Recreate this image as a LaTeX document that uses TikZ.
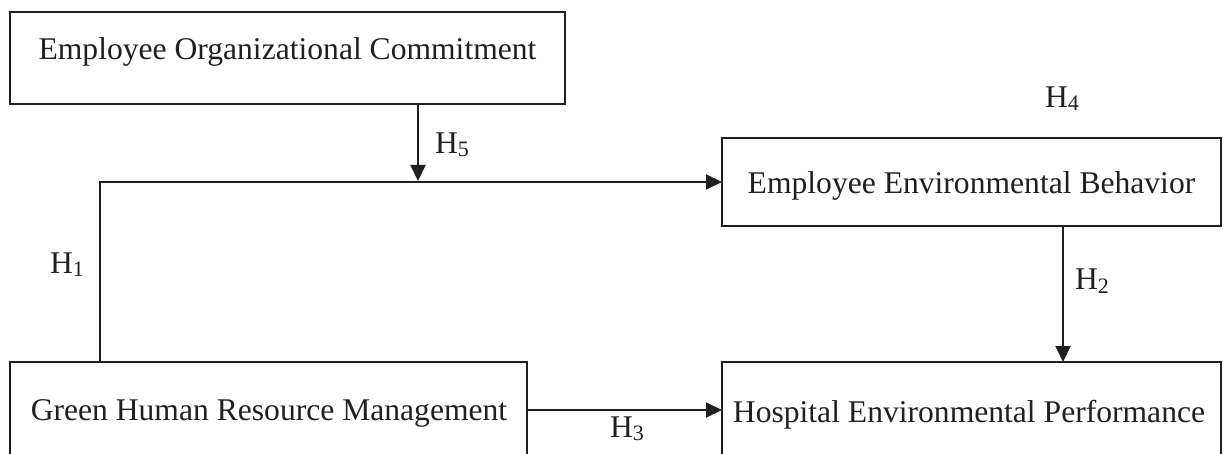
\documentclass[tikz,border=0pt]{standalone}
\usepackage{fontspec}
\setmainfont{Liberation Serif}
\usetikzlibrary{arrows.meta}
\definecolor{ink}{RGB}{35,31,32}
\newcommand{\Hsub}[1]{H\raisebox{-3pt}{\fontsize{22pt}{22pt}\selectfont #1}}
\begin{document}
\begin{tikzpicture}[x=1pt,y=1pt,
  box/.style={draw=ink,line width=2.2pt,rectangle,inner sep=0pt,outer sep=0pt},
  txt/.style={inner sep=0pt,outer sep=0pt,anchor=base,text=ink,font=\fontsize{31.6pt}{36pt}\selectfont},
  lbl/.style={inner sep=0pt,outer sep=0pt,anchor=base west,text=ink,font=\fontsize{31.6pt}{36pt}\selectfont},
  arr/.style={draw=ink,line width=2pt,-{Triangle[length=16pt,width=15pt]}},
  ln/.style={draw=ink,line width=2pt}]
\useasboundingbox (0,0) rectangle (1228,-454);
\clip (0,0) rectangle (1228,-454);
\fill[white] (0,0) rectangle (1228,-454);
% boxes
\node[box,minimum width=555pt,minimum height=92pt] (eoc) at (287.5,-58) {};
\node[box,minimum width=499pt,minimum height=88pt] (eeb) at (971.5,-182) {};
\node[box,minimum width=517pt,minimum height=118pt] (ghrm) at (268.5,-421) {};
\node[box,minimum width=499pt,minimum height=118pt] (hep) at (971.5,-421) {};
% box texts
\node[txt] (eoct) at (287.5,-60) {Employee Organizational Commitment};
\node[txt] (eebt) at (971.5,-194) {Employee Environmental Behavior};
\node[txt] (ghrmt) at (269,-420) {Green Human Resource Management};
\node[txt] (hept) at (969,-422) {Hospital Environmental Performance};
% helper coordinates
\coordinate (bend) at (100,-182);
\coordinate (h5t) at (418,-181);
\coordinate (h2x) at (1063,0);
\coordinate (h3y) at (0,-410);
% connectors
\draw[arr] (ghrm.north -| bend) -- (bend) -- (eeb.west);
\draw[arr] (eoc.south -| h5t) -- (h5t);
\draw[arr] (eeb.south -| h2x) -- (hep.north -| h2x);
\draw[arr] (ghrm.east |- h3y) -- (hep.west |- h3y);
% labels
\node[lbl] (l1) at (50,-273) {\Hsub{1}};
\node[lbl] (l2) at (1075,-290) {\Hsub{2}};
\node[lbl] (l3) at (610,-437) {\Hsub{3}};
\node[lbl] (l4) at (1045,-108) {\Hsub{4}};
\node[lbl] (l5) at (435,-154) {\Hsub{5}};
\end{tikzpicture}
\end{document}
